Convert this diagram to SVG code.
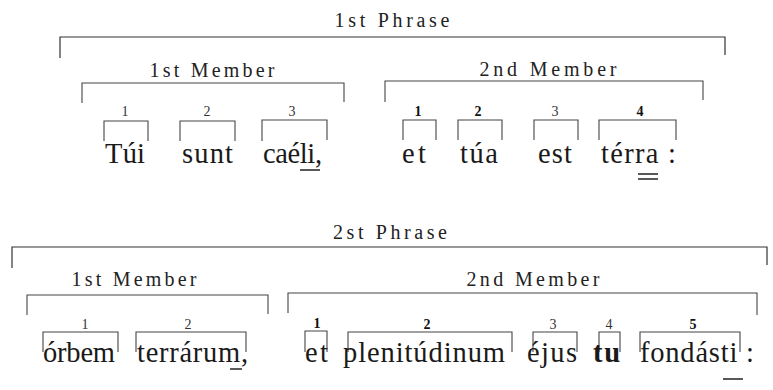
<svg xmlns="http://www.w3.org/2000/svg" width="773" height="390" viewBox="0 0 773 390">
<style>
.br{fill:none;stroke:#444;stroke-width:1.1}
.ph{fill:none;stroke:#333;stroke-width:1.2}
.lbl{font-family:"Liberation Serif",serif;font-size:20px;fill:#222;text-anchor:middle}
.num{font-family:"Liberation Serif",serif;font-size:14px;fill:#333;text-anchor:middle}
.b{font-weight:bold;fill:#111}
.w{font-family:"Liberation Serif",serif;font-size:28.5px;fill:#1a1a1a}
.ul{stroke:#222;stroke-width:1.5}
</style>
<rect width="773" height="390" fill="#fff"/>
<!-- Top phrase -->
<g id="phrase1">
<path class="ph" d="M60,58 V37 H725 V55"/>
<text class="lbl" x="392" y="27" textLength="115" lengthAdjust="spacing">1st Phrase</text>
</g>
<g id="p1-member1">
<path class="br" d="M82,103 V83 H344 V102"/>
<text class="lbl" x="212" y="77" textLength="125" lengthAdjust="spacing">1st Member</text>
</g>
<g id="p1-member2">
<path class="br" d="M385,102 V81 H703 V100"/>
<text class="lbl" x="548" y="76" textLength="137" lengthAdjust="spacing">2nd Member</text>
</g>
<g id="p1-w1">
<path class="br" d="M104,141 V121 H148 V141"/>
<text class="num" x="125" y="116">1</text>
<text class="w" x="105" y="163" textLength="40" lengthAdjust="spacing">Túi</text>
</g>
<g id="p1-w2">
<path class="br" d="M180,141 V121 H235 V141"/>
<text class="num" x="207" y="116">2</text>
<text class="w" x="182" y="163" textLength="51" lengthAdjust="spacing">sunt</text>
</g>
<g id="p1-w3">
<path class="br" d="M262,141 V120 H327 V140"/>
<text class="num" x="292" y="116">3</text>
<text class="w" x="263" y="163" textLength="59" lengthAdjust="spacing">caéli,</text>
<line class="ul" x1="300" y1="170" x2="320" y2="170"/>
</g>
<g id="p1-w4">
<path class="br" d="M403,140 V120 H436 V140"/>
<text class="num b" x="418" y="116">1</text>
<text class="w" x="402" y="163" textLength="24" lengthAdjust="spacing">et</text>
</g>
<g id="p1-w5">
<path class="br" d="M458,140 V120 H502 V140"/>
<text class="num b" x="478" y="116">2</text>
<text class="w" x="460" y="163" textLength="38" lengthAdjust="spacing">túa</text>
</g>
<g id="p1-w6">
<path class="br" d="M534,140 V120 H578 V140"/>
<text class="num" x="555" y="116">3</text>
<text class="w" x="538" y="163" textLength="34" lengthAdjust="spacing">est</text>
</g>
<g id="p1-w7">
<path class="br" d="M599,140 V120 H676 V140"/>
<text class="num b" x="640" y="116">4</text>
<text class="w" x="601" y="163" textLength="75" lengthAdjust="spacing">térra :</text>
<line class="ul" x1="638" y1="174" x2="658" y2="174"/>
<line class="ul" x1="638" y1="179" x2="658" y2="179"/>
</g>
<!-- Bottom phrase -->
<g id="phrase2">
<path class="ph" d="M12,268 V247 H767 V265"/>
<text class="lbl" x="390" y="239" textLength="114" lengthAdjust="spacing">2st Phrase</text>
</g>
<g id="p2-member1">
<path class="br" d="M27,315 V295 H268 V314"/>
<text class="lbl" x="134" y="286" textLength="125" lengthAdjust="spacing">1st Member</text>
</g>
<g id="p2-member2">
<path class="br" d="M288,313 V293 H757 V315"/>
<text class="lbl" x="533" y="286" textLength="133" lengthAdjust="spacing">2nd Member</text>
</g>
<g id="p2-w1">
<path class="br" d="M43,352 V332 H118 V352"/>
<text class="num" x="85" y="329">1</text>
<text class="w" x="43" y="362" textLength="72" lengthAdjust="spacing">órbem</text>
</g>
<g id="p2-w2">
<path class="br" d="M136,352 V332 H246 V352"/>
<text class="num" x="188" y="329">2</text>
<text class="w" x="137" y="362" textLength="111" lengthAdjust="spacing">terrárum,</text>
<line class="ul" x1="230" y1="369" x2="242" y2="369"/>
</g>
<g id="p2-w3">
<path class="br" d="M305,352 V331 H327 V352"/>
<text class="num b" x="317" y="328">1</text>
<text class="w" x="305" y="362" textLength="23" lengthAdjust="spacing">et</text>
</g>
<g id="p2-w4">
<path class="br" d="M348,352 V332 H512 V352"/>
<text class="num b" x="427" y="329">2</text>
<text class="w" x="343" y="362" textLength="162" lengthAdjust="spacing">plenitúdinum</text>
</g>
<g id="p2-w5">
<path class="br" d="M533,352 V332 H577 V352"/>
<text class="num" x="553" y="329">3</text>
<text class="w" x="527" y="362" textLength="50" lengthAdjust="spacing">éjus</text>
</g>
<g id="p2-w6">
<path class="br" d="M599,352 V332 H620 V352"/>
<text class="num" x="609" y="329">4</text>
<text class="w b" x="593" y="362" textLength="27" lengthAdjust="spacing">tu</text>
</g>
<g id="p2-w7">
<path class="br" d="M640,352 V332 H740 V352"/>
<text class="num b" x="693" y="329">5</text>
<text class="w" x="640" y="362" textLength="114" lengthAdjust="spacing">fondásti :</text>
<line class="ul" x1="723" y1="379" x2="743" y2="379"/>
</g>
<g id="connectors"></g>
</svg>
